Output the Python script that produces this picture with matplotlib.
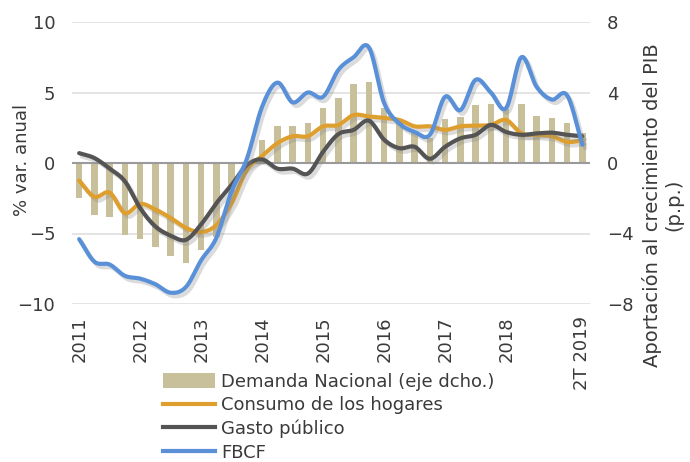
import numpy as np
import matplotlib
matplotlib.use("Agg")
import matplotlib.pyplot as plt
from matplotlib.patches import Patch
from matplotlib.lines import Line2D
import matplotlib.patheffects as pe

plt.rcParams['font.family'] = ['DejaVu Sans']

# ---------------- data (2011 Q1 .. 2019 Q2) ----------------
tick_pos = [0, 4, 8, 12, 16, 20, 24, 28, 33]
tick_labels = ["2011", "2012", "2013", "2014", "2015", "2016", "2017", "2018", "2T 2019"]

demanda_nacional = [-2.0, -2.95, -3.05, -4.1, -4.3, -4.75, -5.25, -5.65, -4.95, -4.2,
                    -2.2, -0.3, 1.3, 2.1, 2.1, 2.25, 3.1, 3.7, 4.5, 4.6,
                    3.1, 2.4, 1.7, 1.4, 2.5, 2.6, 3.3, 3.35, 3.05, 3.35,
                    2.65, 2.55, 2.25, 1.7]

consumo_hogares = [-1.25, -2.4, -2.1, -3.55, -2.9, -3.3, -3.9, -4.6, -4.9, -4.4,
                   -2.85, -0.5, 0.5, 1.4, 1.9, 1.9, 2.6, 2.7, 3.4, 3.3,
                   3.2, 3.05, 2.6, 2.6, 2.35, 2.6, 2.65, 2.7, 3.05, 2.1,
                   2.0, 1.9, 1.5, 1.6]

gasto_publico = [0.7, 0.35, -0.4, -1.3, -3.2, -4.5, -5.15, -5.45, -4.35, -2.85,
                 -1.55, -0.15, 0.25, -0.4, -0.4, -0.75, 0.8, 2.05, 2.35, 3.0,
                 1.65, 1.05, 1.15, 0.3, 1.15, 1.75, 2.0, 2.7, 2.2, 2.0,
                 2.1, 2.15, 2.0, 1.9]

fbcf = [-5.4, -7.0, -7.2, -8.0, -8.2, -8.6, -9.2, -8.8, -6.9, -5.3,
        -2.0, 0.3, 4.0, 5.7, 4.3, 5.0, 4.7, 6.6, 7.5, 8.2,
        4.25, 2.8, 2.2, 2.0, 4.7, 3.75, 5.9, 5.0, 3.9, 7.5,
        5.4, 4.5, 4.8, 1.3]

# ---------------- helpers ----------------
def smooth(x, y, n=16):
    """Catmull-Rom style smoothing similar to Excel smoothed lines."""
    x = np.asarray(x, float)
    y = np.asarray(y, float)
    px = np.concatenate([[2 * x[0] - x[1]], x, [2 * x[-1] - x[-2]]])
    py = np.concatenate([[2 * y[0] - y[1]], y, [2 * y[-1] - y[-2]]])
    xs, ys = [], []
    t = np.linspace(0, 1, n, endpoint=False)
    for i in range(1, len(px) - 2):
        p0, p1, p2, p3 = py[i - 1], py[i], py[i + 1], py[i + 2]
        q0, q1, q2, q3 = px[i - 1], px[i], px[i + 1], px[i + 2]
        ys.append(0.5 * ((2 * p1) + (-p0 + p2) * t + (2 * p0 - 5 * p1 + 4 * p2 - p3) * t ** 2
                         + (-p0 + 3 * p1 - 3 * p2 + p3) * t ** 3))
        xs.append(0.5 * ((2 * q1) + (-q0 + q2) * t + (2 * q0 - 5 * q1 + 4 * q2 - q3) * t ** 2
                         + (-q0 + 3 * q1 - 3 * q2 + q3) * t ** 3))
    xs.append([x[-1]])
    ys.append([y[-1]])
    return np.concatenate(xs), np.concatenate(ys)

# ---------------- figure ----------------
W, H = 690, 462
fig = plt.figure(figsize=(6.9, 4.62), dpi=100)
ax_l, ax_b, ax_w, ax_h = 72, 304, 518, 282
ax = fig.add_axes([ax_l / W, 1 - ax_b / H, ax_w / W, ax_h / H])
ax2 = ax.twinx()

x = np.arange(len(demanda_nacional))

c_bar = '#C8BF9B'
c_cons = '#DE9F2E'
c_gasto = '#545454'
c_fbcf = '#5990D8'
c_txt = '#3A3A3A'

# bars on right axis
ax2.bar(x, demanda_nacional, width=0.42, color=c_bar, zorder=2)
ax2.set_ylim(-8, 8)
ax2.set_yticks([-8, -4, 0, 4, 8])

# lines on left axis
ax.set_zorder(ax2.get_zorder() + 1)
ax.patch.set_visible(False)
ax.set_ylim(-10, 10)
ax.set_yticks([-10, -5, 0, 5, 10])
ax.set_xlim(-0.47, 33.5)

for yv in [-10, -5, 5, 10]:
    ax2.axhline(yv * 0.8, color='#E2E2E2', lw=1.3, zorder=0)
ax.axhline(0, color='#9A9A9A', lw=1.5, zorder=1)

shadow = [pe.SimpleLineShadow(offset=(2, -2.5), shadow_color='#8a8a8a', alpha=0.3, rho=1.0),
          pe.Normal()]
for series, col in [(consumo_hogares, c_cons), (gasto_publico, c_gasto), (fbcf, c_fbcf)]:
    sx, sy = smooth(x, series)
    ax.plot(sx, sy, color=col, lw=3.0, solid_capstyle='round', zorder=3,
            path_effects=shadow)

# axes styling
for a in (ax, ax2):
    for s in a.spines.values():
        s.set_visible(False)
    a.tick_params(length=0, labelsize=13, colors=c_txt)

ax.set_xticks(tick_pos)
ax.set_xticklabels(tick_labels, rotation=90, fontsize=13, color=c_txt)
ax.tick_params(axis='x', pad=9)
ax.tick_params(axis='y', pad=12)
ax2.tick_params(axis='y', pad=12)
ax.set_ylabel('% var. anual', fontsize=13, color=c_txt)
ax.yaxis.set_label_coords((31 - ax_l) / ax_w, (ax_b - 160) / ax_h)
ax2.set_ylabel('Aportación al crecimiento del PIB\n(p.p.)', fontsize=14,
               color=c_txt, linespacing=1.15)
ax2.yaxis.set_label_coords((642 - ax_l) / ax_w, (ax_b - 205) / ax_h)

handles = [Patch(facecolor=c_bar, edgecolor='none'),
           Line2D([], [], color=c_cons, lw=3),
           Line2D([], [], color=c_gasto, lw=3),
           Line2D([], [], color=c_fbcf, lw=3)]
labels = ['Demanda Nacional (eje dcho.)', 'Consumo de los hogares',
          'Gasto público', 'FBCF']
leg = fig.legend(handles, labels, loc='upper left',
                 bbox_to_anchor=(163 / W, 1 - 373 / H),
                 frameon=False, fontsize=13, handlelength=2.9, handleheight=0.9,
                 handletextpad=0.3, labelspacing=0.3, borderpad=0, borderaxespad=0)
for t in leg.get_texts():
    t.set_color(c_txt)

fig.savefig('out.png', dpi=100)
